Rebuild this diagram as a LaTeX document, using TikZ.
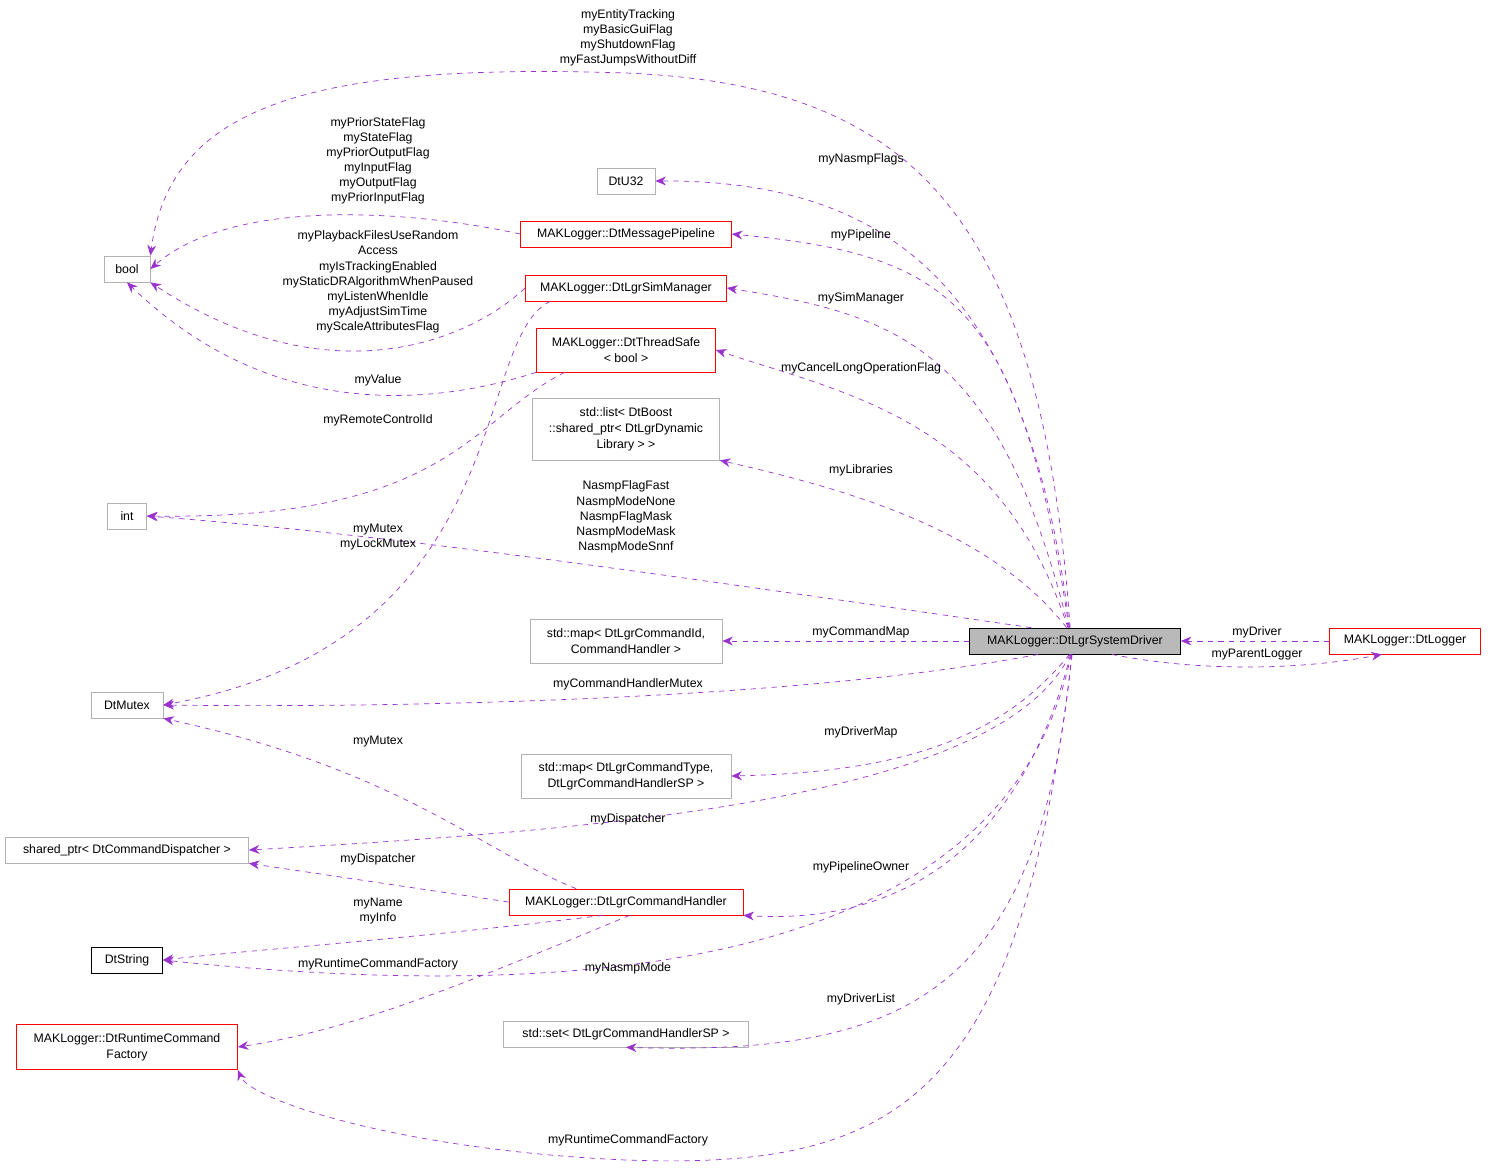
\documentclass[tikz,border=0pt]{standalone}
\usepackage{fontspec}
\setmainfont{Liberation Sans}
\usetikzlibrary{arrows.meta,positioning,calc}
\definecolor{edgecol}{HTML}{9A32CD}
\tikzset{
  box/.style={draw=gray!60,fill=white,inner sep=2pt,minimum height=26*0.02cm,align=center,font=\fontsize{7}{9}\selectfont},
  redbox/.style={box,draw=red},
  blackbox/.style={box,draw=black},
  rel/.style={draw=edgecol,dashed,-{Stealth[length=6pt,width=5pt]}},
  lbl/.style={align=center,font=\fontsize{7}{8.6}\selectfont,inner sep=0pt}
}
\begin{document}
\begin{tikzpicture}[x=0.02cm,y=-0.02cm]
\useasboundingbox (0,0) rectangle (1488,1167);
%classes
\node[box,minimum width=46*0.02cm] (bool) at (127,269) {bool};
\node[box,minimum width=58*0.02cm] (dtu32) at (626,181) {DtU32};
\node[redbox,minimum width=211*0.02cm] (pipeline) at (626,234) {MAKLogger::DtMessagePipeline};
\node[redbox,minimum width=201*0.02cm] (simmgr) at (626,288) {MAKLogger::DtLgrSimManager};
\node[redbox,minimum width=179*0.02cm,minimum height=44*0.02cm] (threadsafe) at (626,350) {MAKLogger::DtThreadSafe\\ {\textless} bool {\textgreater}};
\node[box,minimum width=187*0.02cm,minimum height=62*0.02cm] (liblist) at (626,429) {std::list{\textless} DtBoost\\ ::shared\_ptr{\textless} DtLgrDynamic\\ Library {\textgreater} {\textgreater}};
\node[box,minimum width=39*0.02cm] (int) at (127,516) {int};
\node[box,minimum width=192*0.02cm,minimum height=44*0.02cm] (cmdmap) at (626,641) {std::map{\textless} DtLgrCommandId,\\ CommandHandler {\textgreater}};
\node[box,draw=black,fill=gray!55,minimum width=211*0.02cm] (sysdrv) at (1075,641) {MAKLogger::DtLgrSystemDriver};
\node[redbox,minimum width=151*0.02cm] (logger) at (1405,641) {MAKLogger::DtLogger};
\node[box,minimum width=72*0.02cm] (mutex) at (127,705) {DtMutex};
\node[box,minimum width=210*0.02cm,minimum height=44*0.02cm] (drvmap) at (626,776) {std::map{\textless} DtLgrCommandType,\\ DtLgrCommandHandlerSP {\textgreater}};
\node[box,minimum width=243*0.02cm] (dispatch) at (127,850) {shared\_ptr{\textless} DtCommandDispatcher {\textgreater}};
\node[redbox,minimum width=234*0.02cm] (handler) at (626,902) {MAKLogger::DtLgrCommandHandler};
\node[blackbox,minimum width=71*0.02cm] (string) at (127,960) {DtString};
\node[redbox,minimum width=221*0.02cm,minimum height=45*0.02cm] (factory) at (127,1047) {MAKLogger::DtRuntimeCommand\\ Factory};
\node[box,minimum width=245*0.02cm] (drvset) at (626,1034) {std::set{\textless} DtLgrCommandHandlerSP {\textgreater}};

%edges from the system driver
\draw[rel] (sysdrv.110) .. controls (1040,200) and (900,85) .. (626,73) .. controls (300,62) and (170,110) .. (bool.north east);
\draw[rel] (sysdrv.112) .. controls (1030,300) and (900,180) .. (dtu32.east);
\draw[rel] (sysdrv.114) .. controls (1020,300) and (950,255) .. (pipeline.east);
\draw[rel] (sysdrv.116) .. controls (1000,350) and (900,315) .. (simmgr.east);
\draw[rel] (sysdrv.118) .. controls (1000,420) and (850,395) .. (threadsafe.east);
\draw[rel] (sysdrv.122) .. controls (990,530) and (850,490) .. (liblist.south east);
\draw[rel] (sysdrv.163) .. controls (700,580) and (400,535) .. (int.east);
\draw[rel] (sysdrv.west) -- (cmdmap.east);
\draw[rel] (sysdrv.-160) .. controls (800,700) and (400,708) .. (mutex.east);
\draw[rel] (sysdrv.-112) .. controls (1000,740) and (900,772) .. (drvmap.east);
\draw[rel] (sysdrv.-110) .. controls (1000,800) and (600,830) .. (dispatch.east);
\draw[rel] (sysdrv.-108) .. controls (1020,850) and (900,925) .. (handler.south east);
\draw[rel] (sysdrv.-106) .. controls (1000,1000) and (500,995) .. (string.east);
\draw[rel] (sysdrv.-104) .. controls (1040,1000) and (900,1055) .. (drvset.south);
\draw[rel] (sysdrv.-102) .. controls (1020,1100) and (900,1170) .. (626,1160) .. controls (400,1150) and (250,1100) .. (factory.south east);
\draw[rel] (logger.west) -- (sysdrv.east);
\draw[rel] (sysdrv.-20) .. controls (1200,672) and (1300,670) .. (logger.-150);

%edges from the other classes
\draw[rel] (pipeline.west) .. controls (400,208) and (230,200) .. (bool.east);
\draw[rel] (simmgr.west) .. controls (470,340) and (330,400) .. (bool.south east);
\draw[rel] (threadsafe.south west) .. controls (450,400) and (280,430) .. (bool.south);
\draw[rel] (threadsafe.200) .. controls (470,420) and (450,520) .. (int.east);
\draw[rel] (simmgr.190) .. controls (470,340) and (520,640) .. (mutex.east);
\draw[rel] (handler.165) .. controls (480,850) and (400,770) .. (mutex.south east);
\draw[rel] (handler.west) -- (dispatch.south east);
\draw[rel] (handler.-150) .. controls (400,940) and (250,950) .. (string.east);
\draw[rel] (handler.-75) .. controls (450,990) and (350,1030) .. (factory.east);

%labels
\node[lbl] (lbool) at (628,38) {myEntityTracking\\ myBasicGuiFlag\\ myShutdownFlag\\ myFastJumpsWithoutDiff};
\node[lbl] (lu32) at (861,159) {myNasmpFlags};
\node[lbl] (lpipe) at (861,235) {myPipeline};
\node[lbl] (lsim) at (861,298) {mySimManager};
\node[lbl] (lcancel) at (861,368) {myCancelLongOperationFlag};
\node[lbl] (llib) at (861,470) {myLibraries};
\node[lbl] (lnasmp) at (626,517) {NasmpFlagFast\\ NasmpModeNone\\ NasmpFlagMask\\ NasmpModeMask\\ NasmpModeSnnf};
\node[lbl] (lintmx) at (378,537) {myMutex\\ myLockMutex};
\node[lbl] (lcmdmap) at (861,632) {myCommandMap};
\node[lbl] (lcmdmx) at (628,684) {myCommandHandlerMutex};
\node[lbl] (ldrvmap) at (861,732) {myDriverMap};
\node[lbl] (ldisp) at (628,819) {myDispatcher};
\node[lbl] (lowner) at (861,867) {myPipelineOwner};
\node[lbl] (lnmode) at (628,968) {myNasmpMode};
\node[lbl] (ldlist) at (861,999) {myDriverList};
\node[lbl] (lfact) at (628,1140) {myRuntimeCommandFactory};
\node[lbl] (ldrv) at (1257,632) {myDriver};
\node[lbl] (lparent) at (1257,655) {myParentLogger};
\node[lbl] (lflags) at (378,161) {myPriorStateFlag\\ myStateFlag\\ myPriorOutputFlag\\ myInputFlag\\ myOutputFlag\\ myPriorInputFlag};
\node[lbl] (lsimflags) at (378,282) {myPlaybackFilesUseRandom\\ Access\\ myIsTrackingEnabled\\ myStaticDRAlgorithmWhenPaused\\ myListenWhenIdle\\ myAdjustSimTime\\ myScaleAttributesFlag};
\node[lbl] (lval) at (378,380) {myValue};
\node[lbl] (lremote) at (378,420) {myRemoteControlId};
\node[lbl] (lmx) at (378,742) {myMutex};
\node[lbl] (lhdisp) at (378,859) {myDispatcher};
\node[lbl] (lname) at (378,911) {myName\\ myInfo};
\node[lbl] (lhfact) at (378,964) {myRuntimeCommandFactory};
\end{tikzpicture}
\end{document}
